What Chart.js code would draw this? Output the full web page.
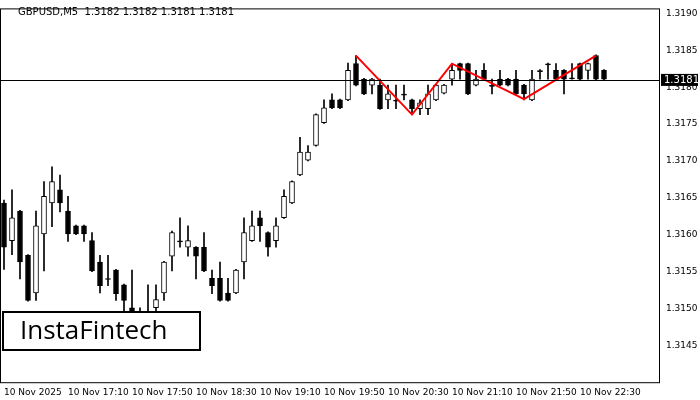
<!DOCTYPE html>
<html>
<head>
<meta charset="utf-8">
<script src="https://cdn.jsdelivr.net/npm/chart.js@4.4.0/dist/chart.umd.min.js"></script>
<style>
  body { margin: 0; background: #fff; }
  #wrap { width: 700px; height: 400px; }
</style>
</head>
<body>
<div id="wrap"><canvas id="chart"></canvas></div>
<script>
const startLabels = ["10 Nov 2025", "10 Nov 17:10", "10 Nov 17:50", "10 Nov 18:30", "10 Nov 19:10", "10 Nov 19:50", "10 Nov 20:30", "10 Nov 21:10", "10 Nov 21:50", "10 Nov 22:30"];
const opens = [1.31643, 1.31592, 1.31632, 1.31572, 1.31521, 1.31601, 1.31643, 1.31661, 1.31632, 1.31612, 1.31612, 1.31592, 1.31563, 1.31541, 1.31552, 1.31532, 1.31501, 1.31472, 1.31472, 1.31501, 1.31521, 1.31571, 1.31592, 1.31583, 1.31583, 1.31583, 1.31541, 1.31541, 1.31521, 1.31521, 1.31563, 1.31592, 1.31623, 1.31603, 1.31592, 1.31623, 1.31643, 1.31681, 1.31701, 1.31721, 1.31752, 1.31783, 1.31783, 1.31783, 1.31832, 1.31811, 1.31803, 1.31803, 1.31783, 1.31783, 1.31791, 1.31783, 1.31771, 1.31771, 1.31783, 1.31792, 1.31811, 1.31832, 1.31832, 1.31803, 1.31823, 1.31803, 1.31811, 1.31811, 1.31811, 1.31803, 1.31783, 1.31823, 1.31832, 1.31823, 1.31823, 1.31813, 1.31832, 1.31823, 1.31843, 1.31823];
const highs = [1.31647, 1.31661, 1.31633, 1.31573, 1.31632, 1.31672, 1.31692, 1.31681, 1.31652, 1.31613, 1.31613, 1.31603, 1.31572, 1.31572, 1.31553, 1.31533, 1.31552, 1.31501, 1.31532, 1.31532, 1.31564, 1.31605, 1.31623, 1.31612, 1.31584, 1.31603, 1.31552, 1.31563, 1.31541, 1.31553, 1.31623, 1.31632, 1.31632, 1.31604, 1.31623, 1.31661, 1.31673, 1.31732, 1.31721, 1.31764, 1.31783, 1.31791, 1.31784, 1.31833, 1.31843, 1.31812, 1.31812, 1.31811, 1.31803, 1.31803, 1.31803, 1.31784, 1.31783, 1.31803, 1.31804, 1.31804, 1.31832, 1.31833, 1.31833, 1.31823, 1.31832, 1.31811, 1.31823, 1.31812, 1.31823, 1.31804, 1.31823, 1.31824, 1.31833, 1.31832, 1.31824, 1.31832, 1.31833, 1.31833, 1.31844, 1.31824];
const lows = [1.31553, 1.31573, 1.31540, 1.31510, 1.31511, 1.31551, 1.31611, 1.31631, 1.31591, 1.31600, 1.31591, 1.31550, 1.31521, 1.31531, 1.31511, 1.31471, 1.31471, 1.31453, 1.31460, 1.31491, 1.31511, 1.31551, 1.31583, 1.31571, 1.31540, 1.31550, 1.31520, 1.31510, 1.31510, 1.31520, 1.31540, 1.31591, 1.31591, 1.31571, 1.31583, 1.31622, 1.31642, 1.31680, 1.31700, 1.31720, 1.31751, 1.31771, 1.31771, 1.31782, 1.31802, 1.31790, 1.31791, 1.31770, 1.31771, 1.31771, 1.31783, 1.31763, 1.31763, 1.31763, 1.31782, 1.31791, 1.31803, 1.31811, 1.31790, 1.31802, 1.31810, 1.31791, 1.31802, 1.31802, 1.31790, 1.31783, 1.31782, 1.31811, 1.31811, 1.31810, 1.31791, 1.31811, 1.31810, 1.31811, 1.31810, 1.31810];
const closes = [1.31583, 1.31623, 1.31563, 1.31511, 1.31612, 1.31652, 1.31672, 1.31643, 1.31601, 1.31601, 1.31601, 1.31551, 1.31531, 1.31540, 1.31520, 1.31511, 1.31480, 1.31460, 1.31492, 1.31512, 1.31563, 1.31603, 1.31591, 1.31592, 1.31571, 1.31551, 1.31531, 1.31511, 1.31511, 1.31552, 1.31603, 1.31612, 1.31612, 1.31583, 1.31612, 1.31652, 1.31672, 1.31712, 1.31712, 1.31763, 1.31772, 1.31772, 1.31772, 1.31823, 1.31803, 1.31791, 1.31811, 1.31771, 1.31791, 1.31782, 1.31790, 1.31771, 1.31779, 1.31791, 1.31803, 1.31803, 1.31823, 1.31823, 1.31791, 1.31811, 1.31811, 1.31802, 1.31803, 1.31803, 1.31791, 1.31791, 1.31811, 1.31822, 1.31831, 1.31811, 1.31811, 1.31812, 1.31811, 1.31832, 1.31811, 1.31811];
// triple top pattern vertices: candle index and price
const patternIdx = [44, 51, 56, 65, 74];
const patternPrice = [1.31843, 1.31763, 1.31832, 1.31784, 1.31843];
const yTicks = [1.3145, 1.3150, 1.3155, 1.3160, 1.3165, 1.3170, 1.3175, 1.3180, 1.3185, 1.3190];
const lastPrice = 1.3181;

const wicks = highs.map((h, i) => ({ x: i, y: [lows[i], h] }));
const bodies = opens.map((o, i) => {
    const c = closes[i];
    return { x: i, y: Math.abs(c - o) < 0.00002 ? [c - 0.000007, c + 0.000007] : [o, c] };
});
const bodyColors = opens.map((o, i) => closes[i] >= o ? '#fff' : '#000');
const pattern = patternIdx.map((x, k) => ({ x: x, y: patternPrice[k] }));

const overlay = {
    id: 'overlay',
    afterDraw(chart) {
        const ctx = chart.ctx;
        const a = chart.chartArea;
        const y = chart.scales.y.getPixelForValue(lastPrice);
        ctx.save();
        ctx.strokeStyle = '#000';
        ctx.lineWidth = 1;
        ctx.beginPath();
        ctx.moveTo(a.left, Math.round(y) + 0.5);
        ctx.lineTo(a.right, Math.round(y) + 0.5);
        ctx.stroke();
        ctx.strokeRect(a.left + 0.5, a.top + 0.5, a.right - a.left - 1, a.bottom - a.top);
        // price tag
        ctx.fillStyle = '#000';
        ctx.fillRect(a.right + 1, y - 6, 37, 12);
        ctx.fillStyle = '#fff';
        ctx.font = '10px "DejaVu Sans", sans-serif';
        ctx.textBaseline = 'middle';
        ctx.fillText(lastPrice.toFixed(4), a.right + 4, y + 0.5);
        // title
        ctx.fillStyle = '#000';
        ctx.font = '10px "DejaVu Sans", sans-serif';
        ctx.textBaseline = 'top';
        ctx.fillText('GBPUSD,M5  1.3182 1.3182 1.3181 1.3181', 18, 7);
        // logo
        ctx.fillStyle = '#fff';
        ctx.fillRect(3, 312, 197, 38);
        ctx.lineWidth = 2;
        ctx.strokeRect(3, 312, 197, 38);
        ctx.fillStyle = '#000';
        ctx.font = '26px "Open Sans", sans-serif';
        ctx.textBaseline = 'middle';
        ctx.fillText('InstaFintech', 20, 332);
        ctx.restore();
    }
};

new Chart(document.getElementById('chart'), {
    data: {
        datasets: [
            { type: 'line', data: pattern, borderColor: '#ff0000', borderWidth: 2, pointRadius: 0, order: 0 },
            { type: 'bar', data: bodies, backgroundColor: bodyColors, borderColor: '#000', borderWidth: 1, borderSkipped: false, barThickness: 5, grouped: false, order: 1 },
            { type: 'bar', data: wicks, backgroundColor: '#000', borderWidth: 0, barThickness: 1, grouped: false, order: 2 }
        ]
    },
    options: {
        responsive: true, maintainAspectRatio: false, animation: false,
        layout: { padding: { left: 0, right: 2, top: 0, bottom: 0 } },
        plugins: { legend: { display: false }, tooltip: { enabled: false } },
        scales: {
            x: {
                type: 'linear', offset: false,
                min: -0.5, max: 82,
                afterBuildTicks: s => { s.ticks = startLabels.map((t, i) => ({ value: i * 8 })); },
                grid: { display: false, tickLength: 3 },
                border: { display: false },
                ticks: {
                    autoSkip: false, maxRotation: 0, align: 'start',
                    color: '#000', font: { size: 9, family: 'DejaVu Sans' }, padding: 2,
                    callback: v => startLabels[v / 8]
                }
            },
            y: {
                position: 'right',
                min: 1.31400, max: 1.31907,
                afterBuildTicks: s => { s.ticks = yTicks.map(v => ({ value: v })); },
                afterFit: s => { s.width = 38; },
                grid: { display: false, tickLength: 3 },
                border: { display: false },
                ticks: { color: '#000', font: { size: 9, family: 'DejaVu Sans' }, padding: 3, callback: v => v.toFixed(4) }
            }
        }
    },
    plugins: [overlay]
});
</script>
</body>
</html>
